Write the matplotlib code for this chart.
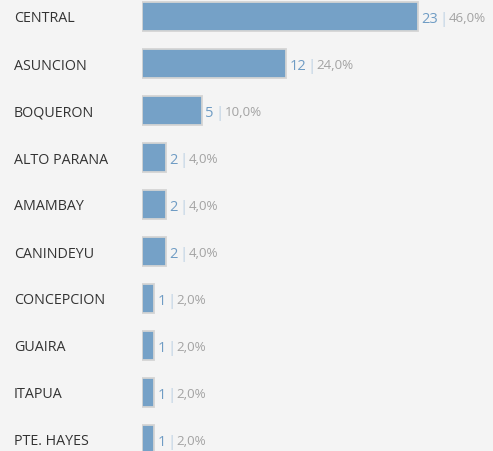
import matplotlib.pyplot as plt

# data
departments = ["CENTRAL", "ASUNCION", "BOQUERON", "ALTO PARANA", "AMAMBAY",
               "CANINDEYU", "CONCEPCION", "GUAIRA", "ITAPUA", "PTE. HAYES"]
counts = [23, 12, 5, 2, 2, 2, 1, 1, 1, 1]
total = 50

BG = "#f4f4f4"
BAR = "#75a1c7"

plt.rcParams["font.family"] = ["Open Sans", "DejaVu Sans"]

W, H = 493, 452
ROW0, STEP = 17.5, 47.0

fig = plt.figure(figsize=(W / 100, H / 100), dpi=100, facecolor=BG)
# axes from x=142px to right edge, full height
ax = fig.add_axes([142 / W, 0, 1 - 142 / W, 1])
ax.set_facecolor(BG)

ypos = list(range(len(departments)))
ax.barh(ypos, counts, height=0.6, color=BAR, edgecolor="#d4d4d4", linewidth=1.3)

ax.set_xlim(0, (W - 142) / 12)
ax.set_ylim((H - ROW0) / STEP, -ROW0 / STEP)
ax.axis("off")

for y, name, c in zip(ypos, departments, counts):
    # category label on the left
    fig.text(14 / W, 1 - (ROW0 + STEP * y + 1.5) / H, name, ha="left",
             va="center", fontsize=10.3, color="#333333")
    t1 = ax.annotate(str(c), xy=(c, y), xytext=(2.5, -1.2), textcoords="offset points",
                     ha="left", va="center", fontsize=10.5, color="#6f9cc4")
    t2 = ax.annotate("|", xy=(1, 0.5), xycoords=t1, xytext=(0.8, 0),
                     textcoords="offset points", ha="left", va="center",
                     fontsize=11, color="#bcd0e3")
    pct = f"{c / total * 100:.1f}%".replace(".", ",")
    ax.annotate(pct, xy=(1, 0.5), xycoords=t2, xytext=(0.8, 0.7),
                textcoords="offset points", ha="left", va="center",
                fontsize=9.6, color="#a3a3a3")

fig.savefig("out.png", dpi=100, facecolor=BG)
